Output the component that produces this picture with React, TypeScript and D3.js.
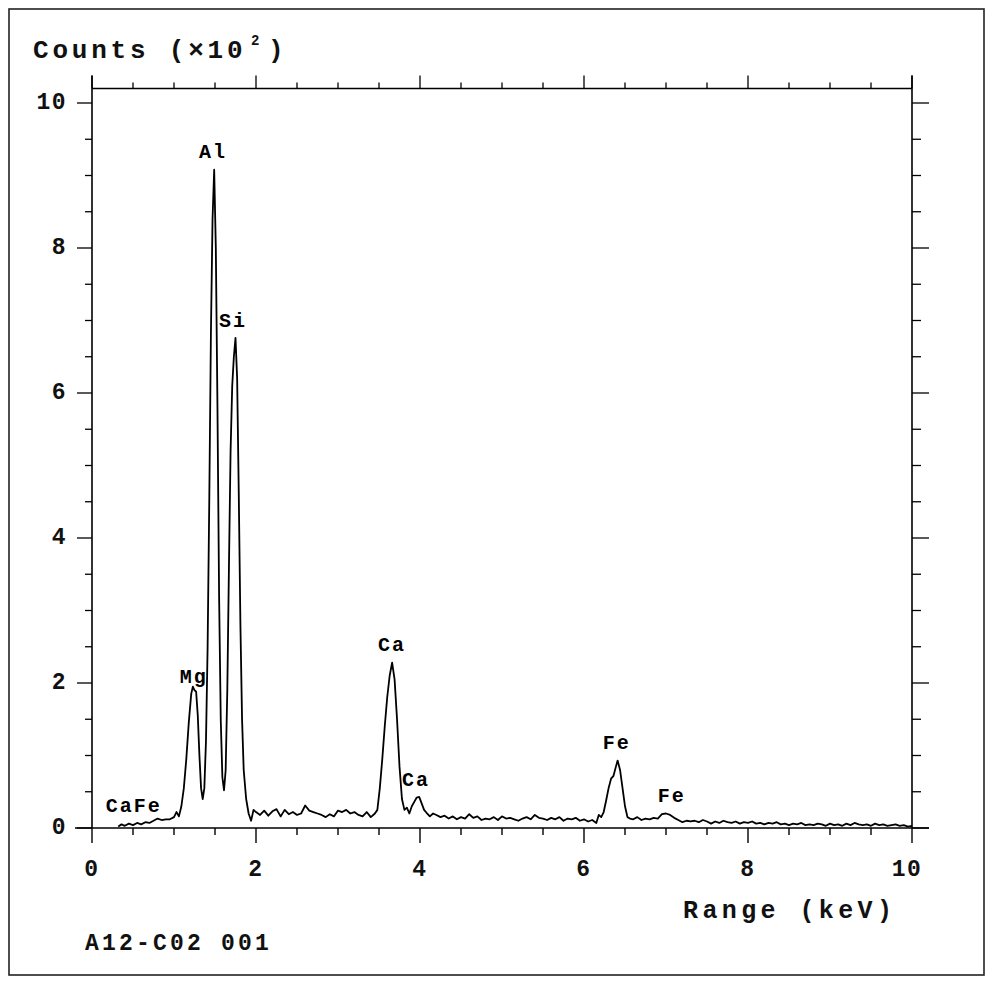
import React from "react";
import * as d3 from "d3";

// Spectrum: energy (keV) and counts (x10^2)
const energy: number[] = [
  0.32, 0.36, 0.40, 0.45, 0.50, 0.55, 0.60, 0.65, 0.70, 0.75, 0.80, 0.85, 0.90, 0.95, 1.00, 1.03, 1.06, 1.09,
  1.12, 1.15, 1.18, 1.21, 1.23, 1.25, 1.27, 1.29, 1.31, 1.33, 1.35, 1.37,
  1.39, 1.41, 1.43, 1.45, 1.47, 1.49, 1.51, 1.53, 1.55, 1.57, 1.59, 1.61, 1.63,
  1.65, 1.67, 1.69, 1.71, 1.73, 1.75, 1.77, 1.79, 1.81, 1.83, 1.85, 1.88, 1.91, 1.94, 1.97,
  2.00, 2.05, 2.10, 2.15, 2.20, 2.25, 2.30, 2.35, 2.40, 2.45, 2.50, 2.55, 2.60, 2.65, 2.70, 2.75, 2.80, 2.85, 2.90, 2.95,
  3.00, 3.05, 3.10, 3.15, 3.20, 3.25, 3.30, 3.35, 3.40, 3.45,
  3.48, 3.51, 3.54, 3.57, 3.60, 3.63, 3.66, 3.69, 3.72, 3.75, 3.78, 3.81, 3.84, 3.87, 3.90,
  3.93, 3.96, 3.99, 4.02, 4.05, 4.08, 4.12, 4.16, 4.20, 4.25,
  4.30, 4.35, 4.40, 4.45, 4.50, 4.55, 4.60, 4.65, 4.70, 4.75, 4.80, 4.85, 4.90, 4.95, 5.00, 5.05, 5.10, 5.15, 5.20, 5.25,
  5.30, 5.35, 5.40, 5.45, 5.50, 5.55, 5.60, 5.65, 5.70, 5.75, 5.80, 5.85, 5.90, 5.95, 6.00, 6.05, 6.10, 6.15, 6.18, 6.21,
  6.24, 6.27, 6.30, 6.33, 6.36, 6.39, 6.41, 6.44, 6.47, 6.50, 6.53, 6.56,
  6.60, 6.65, 6.70, 6.75, 6.80, 6.85, 6.90, 6.95, 7.00, 7.05, 7.10, 7.15, 7.20, 7.25, 7.30, 7.35, 7.40, 7.45, 7.50, 7.55,
  7.60, 7.65, 7.70, 7.75, 7.80, 7.85, 7.90, 7.95, 8.00, 8.05, 8.10, 8.15, 8.20, 8.25, 8.30, 8.35, 8.40, 8.45, 8.50, 8.55,
  8.60, 8.65, 8.70, 8.75, 8.80, 8.85, 8.90, 8.95, 9.00, 9.05, 9.10, 9.15, 9.20, 9.25, 9.30, 9.35, 9.40, 9.45, 9.50, 9.55,
  9.60, 9.65, 9.70, 9.75, 9.80, 9.85, 9.90, 9.95, 10.00,
];
const counts: number[] = [
  0.02, 0.05, 0.03, 0.06, 0.04, 0.07, 0.05, 0.08, 0.07, 0.10, 0.13, 0.11, 0.12, 0.12, 0.15, 0.22, 0.16, 0.30,
  0.55, 0.95, 1.45, 1.85, 1.95, 1.90, 1.88, 1.55, 1.00, 0.55, 0.40, 0.55,
  1.20, 2.50, 4.50, 6.80, 8.40, 9.08, 8.00, 5.80, 3.20, 1.50, 0.70, 0.52, 0.80,
  1.90, 3.60, 5.20, 6.10, 6.50, 6.76, 6.20, 4.60, 2.80, 1.50, 0.80, 0.40, 0.20, 0.10, 0.25,
  0.22, 0.18, 0.24, 0.17, 0.23, 0.26, 0.16, 0.25, 0.19, 0.22, 0.18, 0.20, 0.31, 0.24, 0.22, 0.20, 0.18, 0.15, 0.19, 0.16,
  0.24, 0.22, 0.25, 0.20, 0.22, 0.18, 0.16, 0.22, 0.15, 0.20,
  0.25, 0.55, 0.95, 1.40, 1.80, 2.10, 2.28, 2.05, 1.50, 0.85, 0.40, 0.25, 0.28, 0.20, 0.30,
  0.36, 0.42, 0.43, 0.34, 0.25, 0.21, 0.16, 0.20, 0.18, 0.15,
  0.17, 0.13, 0.16, 0.12, 0.15, 0.13, 0.19, 0.14, 0.16, 0.11, 0.13, 0.12, 0.15, 0.11, 0.16, 0.13, 0.14, 0.12, 0.10, 0.13,
  0.15, 0.12, 0.18, 0.14, 0.13, 0.11, 0.14, 0.12, 0.15, 0.10, 0.13, 0.12, 0.14, 0.10, 0.12, 0.09, 0.11, 0.07, 0.18, 0.15,
  0.22, 0.38, 0.55, 0.68, 0.72, 0.85, 0.93, 0.80, 0.55, 0.30, 0.15, 0.13,
  0.12, 0.15, 0.11, 0.13, 0.12, 0.14, 0.13, 0.19, 0.20, 0.18, 0.14, 0.11, 0.08, 0.10, 0.09, 0.10, 0.08, 0.11, 0.09, 0.06,
  0.09, 0.07, 0.10, 0.08, 0.07, 0.09, 0.06, 0.08, 0.07, 0.09, 0.06, 0.07, 0.05, 0.07, 0.06, 0.08, 0.05, 0.06, 0.04, 0.06,
  0.05, 0.07, 0.04, 0.05, 0.04, 0.06, 0.05, 0.03, 0.06, 0.04, 0.05, 0.03, 0.06, 0.04, 0.07, 0.05, 0.04, 0.05, 0.03, 0.06,
  0.04, 0.05, 0.03, 0.04, 0.05, 0.03, 0.04, 0.02, 0.03,
];

// Peak annotations (element, energy keV, counts x10^2)
const peakNames: string[] = ["CaFe", "Mg", "Al", "Si", "Ca", "Ca", "Fe", "Fe"];
const peakEnergy: number[] = [0.51, 1.24, 1.476, 1.72, 3.66, 3.95, 6.40, 7.07];
const peakLevel: number[] = [0.29, 2.07, 9.32, 6.98, 2.52, 0.66, 1.17, 0.44];

const xTickValues: number[] = [0, 2, 4, 6, 8, 10];
const yTickValues: number[] = [0, 2, 4, 6, 8, 10];

const FONT = "'Liberation Mono', 'DejaVu Sans Mono', monospace";

export default function App() {
  const x = d3.scaleLinear().domain([0, 10]).range([92, 912]);
  const y = d3.scaleLinear().domain([0, 10]).range([828, 103]);
  const yTop = 10.2;
  const minorX = d3.range(0, 10.001, 0.5);
  const minorY = d3.range(0, 10.001, 0.5);
  const isMajor = (v: number) => Math.abs(v / 2 - Math.round(v / 2)) < 1e-6;

  const pts: [number, number][] = energy.map((e, i) => [e, counts[i]]);
  const line = d3
    .line<[number, number]>()
    .x((d) => x(d[0]))
    .y((d) => y(d[1]))
    .curve(d3.curveLinear);

  const sw = 1.6;
  return (
    <svg
      width={986}
      height={990}
      style={{ position: "absolute", left: 0, top: 0, background: "#fff" }}
    >
      <rect x={9} y={9} width={975} height={966} fill="none" stroke="#222" strokeWidth={1.6} />

      {/* top frame */}
      <line x1={x(0)} x2={x(10)} y1={y(yTop)} y2={y(yTop)} stroke="#000" strokeWidth={sw} />
      {minorX.map((v) => (
        <line key={"tt" + v} x1={x(v)} x2={x(v)} y1={y(yTop)} y2={y(yTop) - (isMajor(v) ? 13 : 6)} stroke="#000" strokeWidth={1.3} />
      ))}
      {/* bottom axis */}
      <line x1={x(0) - 17} x2={x(10) + 17} y1={y(0)} y2={y(0)} stroke="#000" strokeWidth={sw} />
      {minorX.map((v) => (
        <line key={"bt" + v} x1={x(v)} x2={x(v)} y1={y(0)} y2={y(0) + (isMajor(v) ? 15 : 7)} stroke="#000" strokeWidth={1.4} />
      ))}
      {/* left axis */}
      <line x1={x(0)} x2={x(0)} y1={y(yTop) - 13} y2={y(0)} stroke="#000" strokeWidth={sw} />
      {minorY.map((v) => (
        <line key={"lt" + v} x1={x(0)} x2={x(0) - (isMajor(v) ? 15 : 7)} y1={y(v)} y2={y(v)} stroke="#000" strokeWidth={1.3} />
      ))}
      {/* right axis */}
      <line x1={x(10)} x2={x(10)} y1={y(yTop) - 13} y2={y(0)} stroke="#000" strokeWidth={sw} />
      {minorY.map((v) => (
        <line key={"rt" + v} x1={x(10)} x2={x(10) + (isMajor(v) ? 17 : 9)} y1={y(v)} y2={y(v)} stroke="#000" strokeWidth={1.3} />
      ))}

      {/* tick labels */}
      {yTickValues.map((v) => (
        <text key={"yl" + v} x={67} y={y(v)} textAnchor="end" dominantBaseline="central" fontFamily={FONT} fontWeight="bold" fontSize={23} letterSpacing={1.5} fill="#111">
          {String(v)}
        </text>
      ))}
      {xTickValues.map((v) => (
        <text key={"xl" + v} x={x(v) - (v === 10 ? 5 : 0)} y={870} textAnchor="middle" dominantBaseline="central" fontFamily={FONT} fontWeight="bold" fontSize={23} letterSpacing={1.5} fill="#111">
          {String(v)}
        </text>
      ))}

      {/* spectrum */}
      <path d={line(pts) || ""} fill="none" stroke="#000" strokeWidth={1.8} strokeLinejoin="round" />

      {/* peak labels */}
      {peakNames.map((n, i) => (
        <text key={"pk" + i} x={x(peakEnergy[i])} y={y(peakLevel[i])} textAnchor="middle" dominantBaseline="central" fontFamily={FONT} fontWeight="bold" fontSize={20} letterSpacing={2} fill="#000">
          {n}
        </text>
      ))}

      {/* titles */}
      <text x={33} y={58} fontFamily={FONT} fontWeight="bold" fontSize={26} letterSpacing={3.8} fill="#111">
        Counts (×10
      </text>
      <text x={251} y={45} fontFamily={FONT} fontWeight="bold" fontSize={14} fill="#111">
        2
      </text>
      <text x={268} y={58} fontFamily={FONT} fontWeight="bold" fontSize={26} fill="#111">
        )
      </text>
      <text x={683} y={918} fontFamily={FONT} fontWeight="bold" fontSize={25} letterSpacing={4.4} fill="#111">
        Range (keV)
      </text>
      <text x={85} y={950} fontFamily={FONT} fontWeight="bold" fontSize={23} letterSpacing={3.2} fill="#111">
        A12-C02 001
      </text>
    </svg>
  );
}
